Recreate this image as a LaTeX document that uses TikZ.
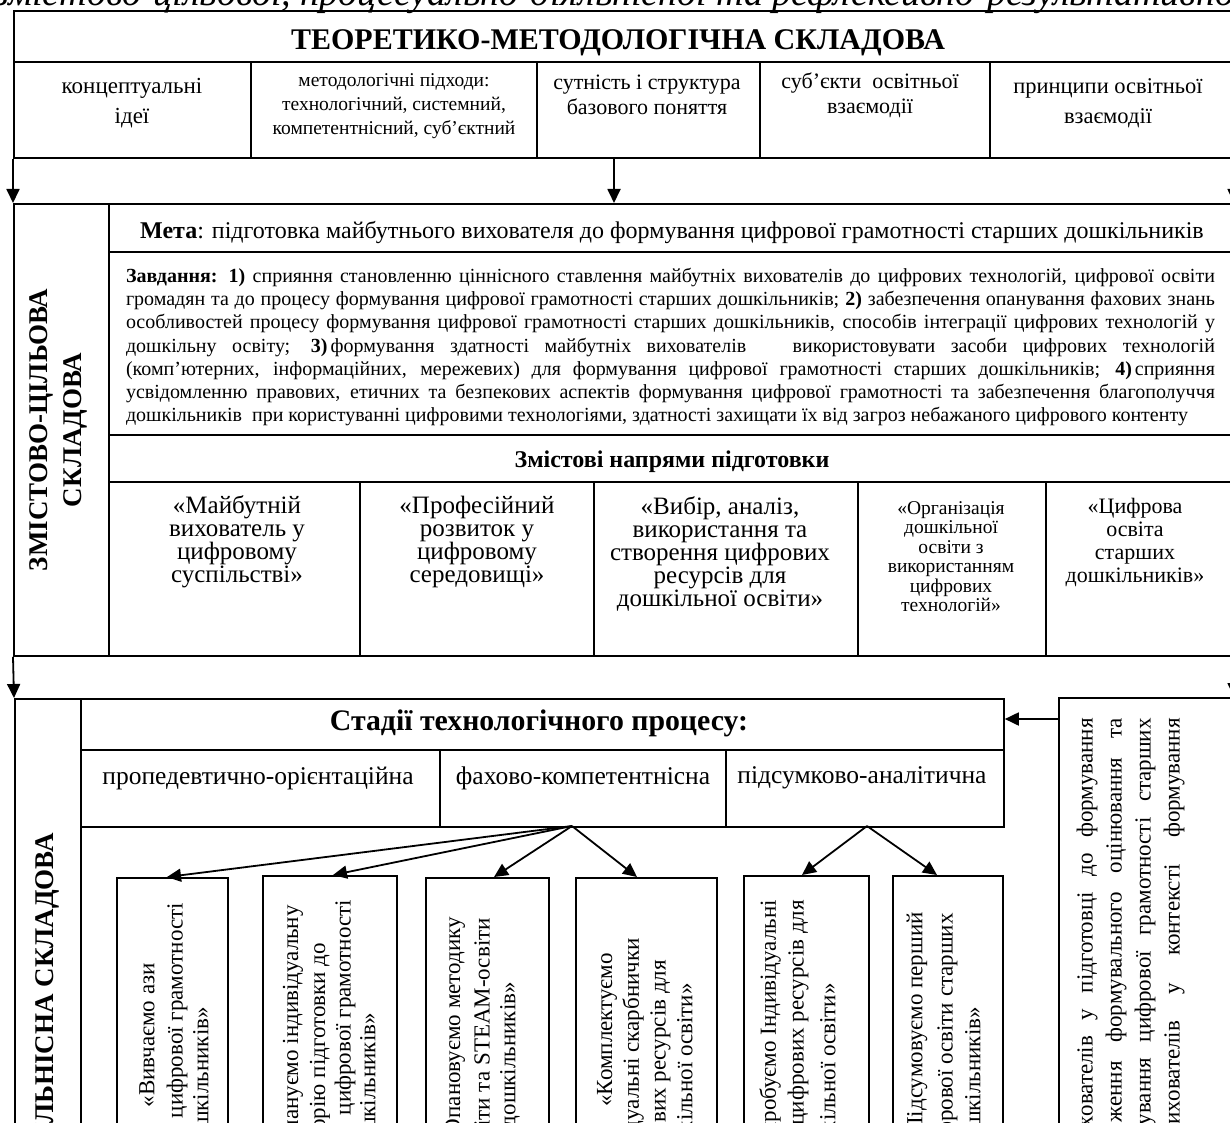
\documentclass[tikz,border=0pt]{standalone}
\usepackage{fontspec}
\setmainfont{Liberation Serif}
\usetikzlibrary{arrows.meta,calc}
\newcommand\myfs[2]{\fontsize{#1}{#2}\selectfont}
\tikzset{
  ln/.style={line width=1.8pt},
  frame/.style={draw, line width=1.8pt, inner sep=0pt, anchor=north west},
  arr/.style={line width=1.8pt, -{Triangle[length=14pt,width=13pt]}},
  lbl/.style={inner sep=0pt, align=center},
  rot/.style={inner sep=0pt, rotate=90, anchor=east},
  vt/.style={font=\myfs{23}{27}},
}
\begin{document}
\begin{tikzpicture}[x=1pt,y=-1pt]
\useasboundingbox (0,0) rectangle (1230,1123);
\clip (0,0) rectangle (1230,1123);

% header line (cut)
\node[inner sep=0pt, anchor=base west, font=\itshape\myfs{38}{42}] (hdr) at (-6,6) {змістово-цільової, процесуально-діяльнісної та рефлексивно-результативної};

% ---------- top block
\node[frame, minimum width=1232pt, minimum height=147pt] (tm) at (13,10) {};
\draw[ln] (13,62) -- (1245,62);
\foreach \x in {251,537,760,990} \draw[ln] (\x,62) -- (\x,157);
\node[lbl, font=\bfseries\myfs{30}{34}] (tmt) at (618,43) {ТЕОРЕТИКО-МЕТОДОЛОГІЧНА СКЛАДОВА};
\node[lbl, font=\myfs{23}{30}] (c1) at (132,103) {концептуальні\\ідеї};
\node[lbl, font=\myfs{19.5}{24}] (c2) at (394,106) {методологічні підходи:\\технологічний, системний,\\компетентнісний, суб’єктний};
\node[lbl, font=\myfs{22}{25}] (c3) at (647,95) {сутність і структура\\базового поняття};
\node[lbl, font=\myfs{22}{25}] (c4) at (870,95) {суб’єкти \ освітньої\\взаємодії};
\node[lbl, font=\myfs{22.5}{30}] (c5) at (1108,103) {принципи освітньої\\взаємодії};

% ---------- second block
\node[frame, minimum width=1232pt, minimum height=452pt] (zc) at (13,203) {};
\draw[ln] (109,203) -- (109,655);
\draw[ln] (109,252) -- (1245,252);
\draw[ln] (109,435) -- (1245,435);
\draw[ln] (109,482) -- (1245,482);
\foreach \x in {360,594,858,1046} \draw[ln] (\x,482) -- (\x,655);

\draw[arr] (tm.south west) -- (zc.north west);
\draw[arr] ([xshift=601pt]tm.south west) -- ([xshift=601pt]zc.north west);
\draw[arr] ([xshift=1221pt]tm.south west) -- ([xshift=1221pt]zc.north west);

\node[lbl, rotate=90, font=\bfseries\myfs{27}{34}] (zcl) at (58,430) {ЗМІСТОВО-ЦІЛЬОВА\\СКЛАДОВА};
\node[lbl, font=\myfs{24}{28}] (meta) at (672,232) {\textbf{Мета}: підготовка майбутнього вихователя до формування цифрової грамотності старших дошкільників};
\node[lbl, font=\myfs{20}{23.3}, align=left] (zav) at (670.5,347) {%
\makebox[1089pt][s]{\textbf{Завдання: 1)} сприяння становленню ціннісного ставлення майбутніх вихователів до цифрових технологій, цифрової освіти}\\
\makebox[1089pt][s]{громадян та до процесу формування цифрової грамотності старших дошкільників; \textbf{2)} забезпечення опанування фахових знань}\\
\makebox[1089pt][s]{особливостей процесу формування цифрової грамотності старших дошкільників, способів інтеграції цифрових технологій у}\\
\makebox[1089pt][s]{дошкільну освіту; \textbf{3)}\hspace{3pt}формування здатності майбутніх вихователів \ \ використовувати засоби цифрових технологій}\\
\makebox[1089pt][s]{(комп’ютерних, інформаційних, мережевих) для формування цифрової грамотності старших дошкільників; \textbf{4)}\hspace{3pt}сприяння}\\
\makebox[1089pt][s]{усвідомленню правових, етичних та безпекових аспектів формування цифрової грамотності та забезпечення благополуччя}\\
\makebox[1089pt][l]{дошкільників \ при користуванні цифровими технологіями, здатності захищати їх від загроз небажаного цифрового контенту}};
\node[lbl, font=\bfseries\myfs{24}{28}] (znp) at (672,462) {Змістові напрями підготовки};
\node[lbl, font=\myfs{25}{23}] (n1) at (237,542) {«Майбутній\\вихователь у\\цифровому\\суспільстві»};
\node[lbl, font=\myfs{25}{23}] (n2) at (477,542) {«Професійний\\розвиток у\\цифровому\\середовищі»};
\node[lbl, font=\myfs{25}{23}] (n3) at (720,554) {«Вибір, аналіз,\\використання та\\створення цифрових\\ресурсів для\\дошкільної освіти»};
\node[lbl, font=\myfs{19.5}{19.5}] (n4) at (951,556.5) {«Організація\\дошкільної\\освіти з\\використанням\\цифрових\\технологій»};
\node[lbl, font=\myfs{22}{23}] (n5) at (1135,542.5) {«Цифрова\\освіта\\старших\\дошкільників»};

% ---------- third block
\node[frame, minimum width=66pt, minimum height=440pt] (pd) at (14,698) {};
\node[frame, minimum width=923pt, minimum height=128pt] (st) at (80,698) {};
\draw[ln] (80,750) -- (1003,750);
\draw[ln] (440,750) -- (440,826);
\draw[ln] (726,750) -- (726,826);
\node[frame, minimum width=200pt, minimum height=440pt] (rb) at (1058,697) {};

\draw[arr] (zc.south west) -- (pd.north west);
\draw[arr] ([xshift=1221pt]zc.south west) -- ([xshift=176pt]rb.north west);
\draw[arr] ([yshift=-22pt]rb.north west) -- ([yshift=-21pt]st.north east);

\node[rot, font=\bfseries\myfs{27}{34}] (pdl) at (47,833) {ПРОЦЕСУАЛЬНО-ДІЯЛЬНІСНА СКЛАДОВА};
\node[lbl, font=\bfseries\myfs{29.8}{33}] (stt) at (539,723) {Стадії технологічного процесу:};
\node[lbl, font=\myfs{25.5}{30}] (s1) at (258,778) {пропедевтично-орієнтаційна};
\node[lbl, font=\myfs{25.5}{30}] (s2) at (583,778) {фахово-компетентнісна};
\node[lbl, font=\myfs{25.5}{30}] (s3) at (862,778) {підсумково-аналітична};

\coordinate (src2) at (572,826);
\coordinate (src3) at (867,826);

\node[frame, minimum width=111pt, minimum height=300pt] (v1) at (116,877) {};
\node[frame, minimum width=134pt, minimum height=300pt] (v2) at (262,875) {};
\node[frame, minimum width=123pt, minimum height=300pt] (v3) at (425,877) {};
\node[frame, minimum width=141pt, minimum height=300pt] (v4) at (575,877) {};
\node[frame, minimum width=125pt, minimum height=300pt] (v5) at (743,875) {};
\node[frame, minimum width=110pt, minimum height=300pt] (v6) at (892,875) {};

\draw[arr] (src2) -- ($(v1.north west)+(51,0)$);
\draw[arr] (src2) -- ($(v2.north west)+(71,0)$);
\draw[arr] (src2) -- ($(v3.north west)+(69,0)$);
\draw[arr] (src2) -- ($(v4.north west)+(62,0)$);
\draw[arr] (src3) -- ($(v5.north west)+(59,0)$);
\draw[arr] (src3) -- ($(v6.north west)+(45,0)$);

\node[rot, vt] (v1a) at (147,963) {«Вивчаємо ази};
\node[rot, vt] (v1b) at (177,903) {цифрової грамотності};
\node[rot, vt] (v1c) at (203,1007) {дошкільників»};

\node[rot, vt] (v2a) at (293,905) {«Плануємо індивідуальну};
\node[rot, vt] (v2b) at (320,943) {траєкторію підготовки до};
\node[rot, vt] (v2c) at (345,900) {цифрової грамотності};
\node[rot, vt] (v2d) at (370,1013) {дошкільників»};

\node[rot, vt] (v3a) at (455,917) {«Опановуємо методику};
\node[rot, vt] (v3b) at (482,918) {освіти та STEAM-освіти};
\node[rot, vt] (v3c) at (510,982) {дошкільників»};

\node[rot, vt] (v4a) at (607,953) {«Комплектуємо};
\node[rot, vt] (v4b) at (633,938) {індивідуальні скарбнички};
\node[rot, vt] (v4c) at (660,960) {цифрових ресурсів для};
\node[rot, vt] (v4d) at (687,983) {дошкільної освіти»};

\node[rot, vt] (v5a) at (770,900) {«Апробуємо Індивідуальні};
\node[rot, vt] (v5b) at (798,900) {цифрових ресурсів для};
\node[rot, vt] (v5c) at (830,983) {дошкільної освіти»};

\node[rot, vt] (v6a) at (917,912) {«Підсумовуємо перший};
\node[rot, vt] (v6b) at (947,913) {досвід цифрової освіти старших};
\node[rot, vt] (v6c) at (975,1007) {дошкільників»};

\node[rot, font=\myfs{23}{28}] (r1) at (1087,718) {\makebox[432pt][s]{вихователів у підготовці до формування}};
\node[rot, font=\myfs{23}{28}] (r2) at (1116,718) {\makebox[404pt][s]{ження формувального оцінювання та}};
\node[rot, font=\myfs{23}{28}] (r3) at (1145,718) {\makebox[407pt][s]{ування цифрової грамотності старших}};
\node[rot, font=\myfs{23}{28}] (r4) at (1174,718) {\makebox[417pt][s]{вихователів у контексті формування}};
\end{tikzpicture}
\end{document}
